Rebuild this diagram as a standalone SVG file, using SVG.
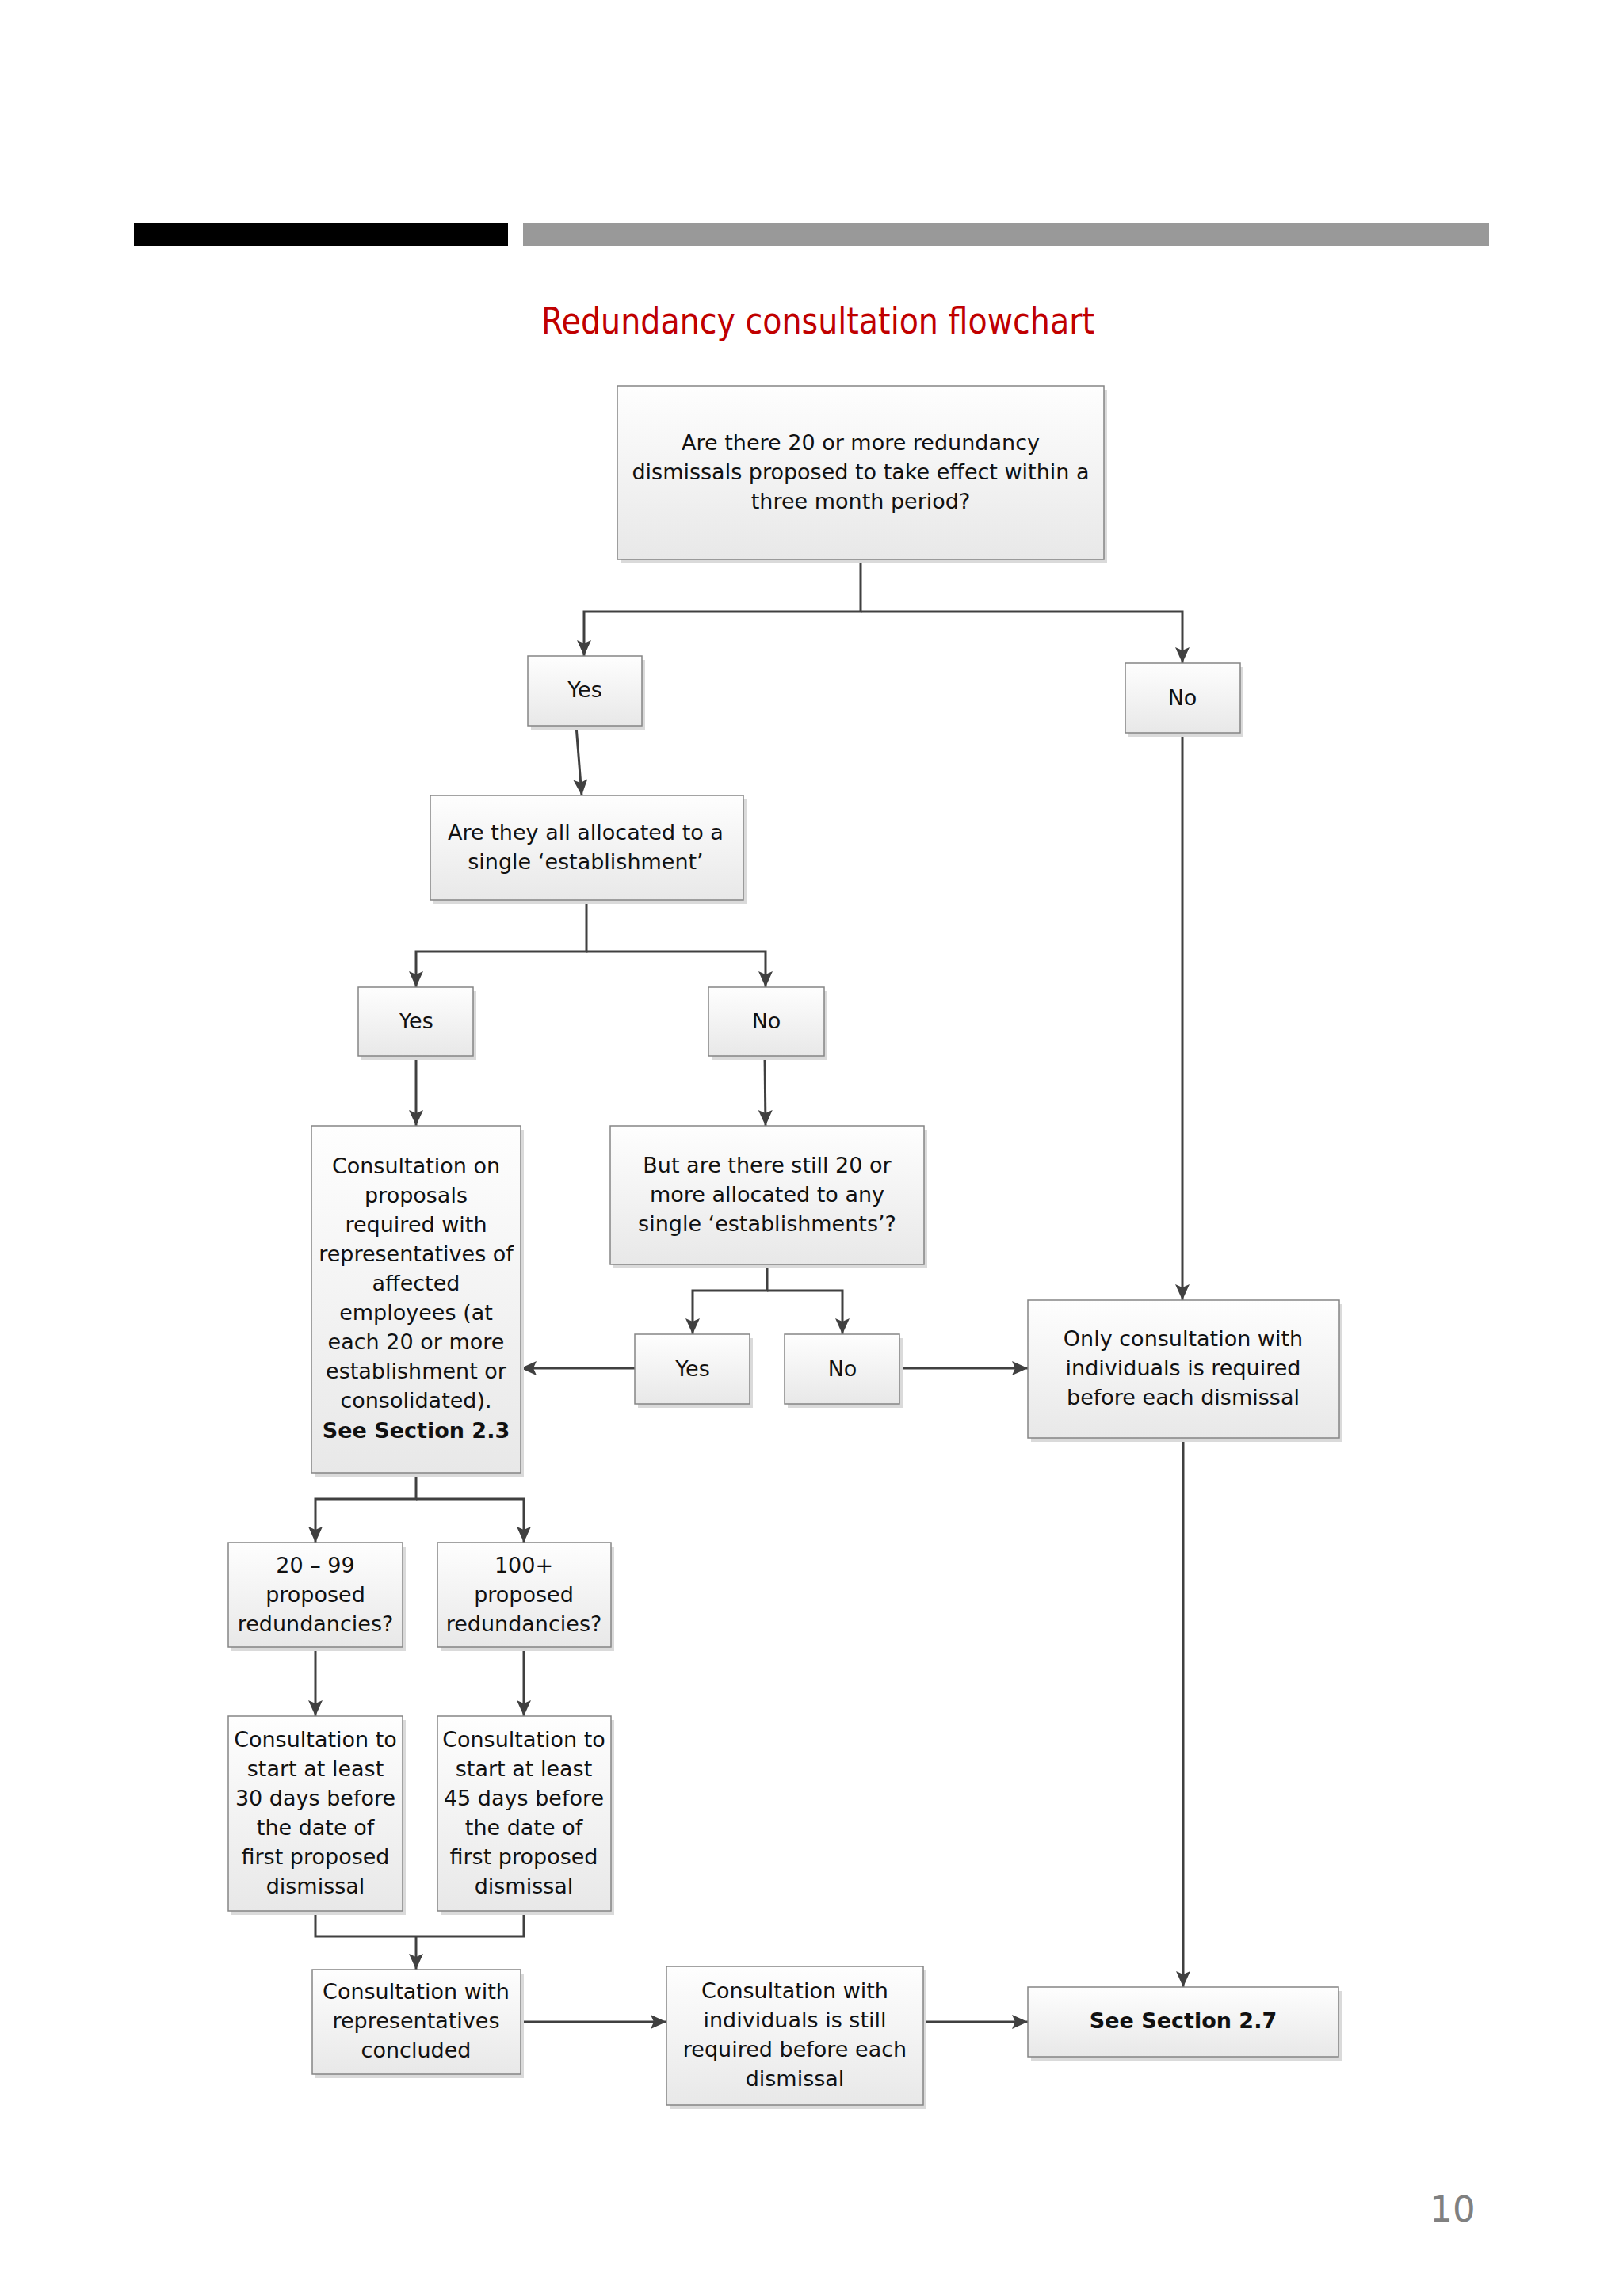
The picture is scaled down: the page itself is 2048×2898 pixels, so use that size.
<svg xmlns="http://www.w3.org/2000/svg" width="2048" height="2898" viewBox="0 0 2048 2898">
<defs>
<linearGradient id="bg" x1="0" y1="0" x2="0" y2="1">
<stop offset="0" stop-color="#fefefe"/>
<stop offset="1" stop-color="#e8e8e8"/>
</linearGradient>
<marker id="ah" markerUnits="userSpaceOnUse" markerWidth="22" markerHeight="20" refX="20" refY="9" orient="auto">
<path d="M0,0 L20,9 L0,18 L4,9 Z" fill="#404040"/>
</marker>
<style>
.box{fill:url(#bg);stroke:#858585;stroke-width:1.5}
.sh{fill:#dadada}
.t{font-family:"DejaVu Sans",Verdana,sans-serif;font-size:27px;fill:#111;text-anchor:middle}
.b{font-weight:bold}
.c{fill:none;stroke:#404040;stroke-width:3}
.a{marker-end:url(#ah)}
</style>
</defs>
<rect width="2048" height="2898" fill="#ffffff"/>
<rect x="169" y="281" width="472" height="30" fill="#000"/>
<rect x="660" y="281" width="1219" height="30" fill="#999999"/>
<text x="1032" y="421" font-family="'DejaVu Sans Condensed','DejaVu Sans',sans-serif" font-size="47" fill="#c00000" text-anchor="middle" textLength="698" lengthAdjust="spacingAndGlyphs">Redundancy consultation flowchart</text>

<g id="connectors">
<path class="c a" d="M1086,706 V772 H737 V828"/>
<path class="c a" d="M1086,772 H1492 V837"/>
<path class="c a" d="M727,916 L734,1004"/>
<path class="c a" d="M1492,925 V1641"/>
<path class="c a" d="M740,1136 V1201 H525 V1246"/>
<path class="c a" d="M740,1201 H966 V1246"/>
<path class="c a" d="M525,1333 V1421"/>
<path class="c a" d="M965,1333 L966,1421"/>
<path class="c a" d="M968,1596 V1629 H874 V1684"/>
<path class="c a" d="M968,1629 H1063 V1684"/>
<path class="c a" d="M801,1727 H657"/>
<path class="c a" d="M1135,1727 H1297"/>
<path class="c a" d="M1493,1815 V2508"/>
<path class="c a" d="M525,1859 V1892 H398 V1947"/>
<path class="c a" d="M525,1892 H661 V1947"/>
<path class="c a" d="M398,2079 V2166"/>
<path class="c a" d="M661,2079 V2166"/>
<path class="c" d="M398,2412 V2444 H661 V2412"/>
<path class="c a" d="M525,2444 V2486"/>
<path class="c a" d="M657,2552 H841"/>
<path class="c a" d="M1165,2552 H1297"/>
</g>

<g id="q1">
<rect class="sh" x="783" y="492" width="614" height="219"/>
<rect class="box" x="779" y="487" width="614" height="219"/>
<text class="t" x="1086" y="568">Are there 20 or more redundancy</text>
<text class="t" x="1086" y="605">dismissals proposed to take effect within a</text>
<text class="t" x="1086" y="642">three month period?</text>
</g>

<g id="yes1">
<rect class="sh" x="670" y="833" width="144" height="88"/>
<rect class="box" x="666" y="828" width="144" height="88"/>
<text class="t" x="738" y="880">Yes</text>
</g>

<g id="no1">
<rect class="sh" x="1424" y="842" width="145" height="88"/>
<rect class="box" x="1420" y="837" width="145" height="88"/>
<text class="t" x="1492" y="890">No</text>
</g>

<g id="q2">
<rect class="sh" x="547" y="1009" width="395" height="132"/>
<rect class="box" x="543" y="1004" width="395" height="132"/>
<text class="t" x="739" y="1060">Are they all allocated to a</text>
<text class="t" x="739" y="1097">single ‘establishment’</text>
</g>

<g id="yes2">
<rect class="sh" x="456" y="1251" width="145" height="87"/>
<rect class="box" x="452" y="1246" width="145" height="87"/>
<text class="t" x="525" y="1298">Yes</text>
</g>

<g id="no2">
<rect class="sh" x="898" y="1251" width="146" height="87"/>
<rect class="box" x="894" y="1246" width="146" height="87"/>
<text class="t" x="967" y="1298">No</text>
</g>

<g id="consult">
<rect class="sh" x="397" y="1426" width="264" height="438"/>
<rect class="box" x="393" y="1421" width="264" height="438"/>
<text class="t" x="525" y="1481">Consultation on</text>
<text class="t" x="525" y="1518">proposals</text>
<text class="t" x="525" y="1555">required with</text>
<text class="t" x="525" y="1592">representatives of</text>
<text class="t" x="525" y="1629">affected</text>
<text class="t" x="525" y="1666">employees (at</text>
<text class="t" x="525" y="1703">each 20 or more</text>
<text class="t" x="525" y="1740">establishment or</text>
<text class="t" x="525" y="1777">consolidated).</text>
<text class="t b" x="525" y="1815">See Section 2.3</text>
</g>

<g id="q3">
<rect class="sh" x="774" y="1426" width="396" height="175"/>
<rect class="box" x="770" y="1421" width="396" height="175"/>
<text class="t" x="968" y="1480">But are there still 20 or</text>
<text class="t" x="968" y="1517">more allocated to any</text>
<text class="t" x="968" y="1554">single ‘establishments’?</text>
</g>

<g id="yes3">
<rect class="sh" x="805" y="1689" width="145" height="88"/>
<rect class="box" x="801" y="1684" width="145" height="88"/>
<text class="t" x="874" y="1737">Yes</text>
</g>

<g id="no3">
<rect class="sh" x="994" y="1689" width="145" height="88"/>
<rect class="box" x="990" y="1684" width="145" height="88"/>
<text class="t" x="1063" y="1737">No</text>
</g>

<g id="only">
<rect class="sh" x="1301" y="1646" width="393" height="174"/>
<rect class="box" x="1297" y="1641" width="393" height="174"/>
<text class="t" x="1493" y="1699">Only consultation with</text>
<text class="t" x="1493" y="1736">individuals is required</text>
<text class="t" x="1493" y="1773">before each dismissal</text>
</g>

<g id="r2099">
<rect class="sh" x="292" y="1952" width="220" height="132"/>
<rect class="box" x="288" y="1947" width="220" height="132"/>
<text class="t" x="398" y="1985">20 – 99</text>
<text class="t" x="398" y="2022">proposed</text>
<text class="t" x="398" y="2059">redundancies?</text>
</g>

<g id="r100">
<rect class="sh" x="556" y="1952" width="219" height="132"/>
<rect class="box" x="552" y="1947" width="219" height="132"/>
<text class="t" x="661" y="1985">100+</text>
<text class="t" x="661" y="2022">proposed</text>
<text class="t" x="661" y="2059">redundancies?</text>
</g>

<g id="d30">
<rect class="sh" x="292" y="2171" width="220" height="246"/>
<rect class="box" x="288" y="2166" width="220" height="246"/>
<text class="t" x="398" y="2205">Consultation to</text>
<text class="t" x="398" y="2242">start at least</text>
<text class="t" x="398" y="2279">30 days before</text>
<text class="t" x="398" y="2316">the date of</text>
<text class="t" x="398" y="2353">first proposed</text>
<text class="t" x="398" y="2390">dismissal</text>
</g>

<g id="d45">
<rect class="sh" x="556" y="2171" width="219" height="246"/>
<rect class="box" x="552" y="2166" width="219" height="246"/>
<text class="t" x="661" y="2205">Consultation to</text>
<text class="t" x="661" y="2242">start at least</text>
<text class="t" x="661" y="2279">45 days before</text>
<text class="t" x="661" y="2316">the date of</text>
<text class="t" x="661" y="2353">first proposed</text>
<text class="t" x="661" y="2390">dismissal</text>
</g>

<g id="reps">
<rect class="sh" x="398" y="2491" width="263" height="132"/>
<rect class="box" x="394" y="2486" width="263" height="132"/>
<text class="t" x="525" y="2523">Consultation with</text>
<text class="t" x="525" y="2560">representatives</text>
<text class="t" x="525" y="2597">concluded</text>
</g>

<g id="indiv">
<rect class="sh" x="845" y="2487" width="324" height="175"/>
<rect class="box" x="841" y="2482" width="324" height="175"/>
<text class="t" x="1003" y="2522">Consultation with</text>
<text class="t" x="1003" y="2559">individuals is still</text>
<text class="t" x="1003" y="2596">required before each</text>
<text class="t" x="1003" y="2633">dismissal</text>
</g>

<g id="s27">
<rect class="sh" x="1301" y="2513" width="392" height="88"/>
<rect class="box" x="1297" y="2508" width="392" height="88"/>
<text class="t b" x="1493" y="2560">See Section 2.7</text>
</g>

<text x="1833" y="2804" font-family="'DejaVu Sans',Verdana,sans-serif" font-size="45" fill="#808080" text-anchor="middle">10</text>
</svg>
